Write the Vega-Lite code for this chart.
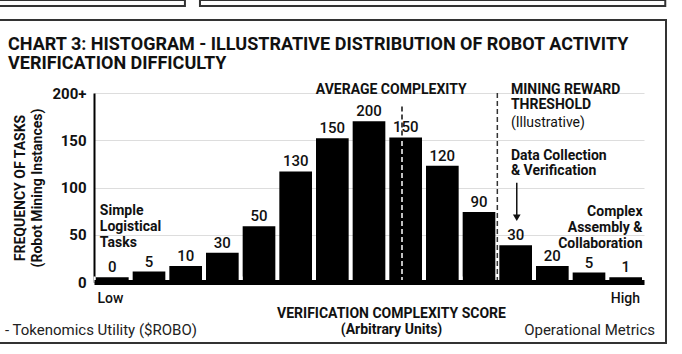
{
  "$schema": "https://vega.github.io/schema/vega-lite/v6.json",
  "width": 550,
  "height": 189,
  "autosize": {"type": "none"},
  "padding": {"left": 94, "top": 93, "right": 38, "bottom": 72},
  "background": "white",
  "config": {"view": {"stroke": null}, "font": "Roboto", "text": {"font": "Roboto", "color": "#111"}},
  "title": {
    "text": ["CHART 3: HISTOGRAM - ILLUSTRATIVE DISTRIBUTION OF ROBOT ACTIVITY", "VERIFICATION DIFFICULTY"],
    "anchor": "start",
    "frame": "group",
    "font": "Roboto",
    "fontSize": 18,
    "fontWeight": "bold",
    "color": "#111",
    "lineHeight": 19,
    "dx": -86,
    "offset": 0,
    "dy": 74
  },
  "datasets": {
    "bins": [
      {"start": 0, "end": 1, "mid": 0.5, "count": 5, "label": "0"},
      {"start": 1, "end": 2, "mid": 1.5, "count": 11, "label": "5"},
      {"start": 2, "end": 3, "mid": 2.5, "count": 17, "label": "10"},
      {"start": 3, "end": 4, "mid": 3.5, "count": 31, "label": "30"},
      {"start": 4, "end": 5, "mid": 4.5, "count": 59, "label": "50"},
      {"start": 5, "end": 6, "mid": 5.5, "count": 117, "label": "130"},
      {"start": 6, "end": 7, "mid": 6.5, "count": 152, "label": "150"},
      {"start": 7, "end": 8, "mid": 7.5, "count": 170, "label": "200"},
      {"start": 8, "end": 9, "mid": 8.5, "count": 153, "label": "150"},
      {"start": 9, "end": 10, "mid": 9.5, "count": 123, "label": "120"},
      {"start": 10, "end": 11, "mid": 10.5, "count": 74, "label": "90"},
      {"start": 11, "end": 12, "mid": 11.5, "count": 39, "label": "30"},
      {"start": 12, "end": 13, "mid": 12.5, "count": 17, "label": "20"},
      {"start": 13, "end": 14, "mid": 13.5, "count": 10, "label": "5"},
      {"start": 14, "end": 15, "mid": 14.5, "count": 5, "label": "1"}
    ]
  },
  "layer": [
    {
      "data": {"name": "bins"},
      "mark": {"type": "bar", "color": "#000", "xOffset": 2, "x2Offset": -2},
      "encoding": {
        "x": {
          "field": "start", "type": "quantitative",
          "scale": {"domain": [0, 15], "nice": false, "zero": false},
          "axis": {
            "values": [0,1,2,3,4,5,6,7,8,9,10,11,12,13,14,15],
            "labelExpr": "datum.value < 0.5 ? 'Low' : (datum.value > 13.5 && datum.value < 14.5) ? 'High' : ''",
            "labelFlush": false,
            "labelAlign": "left",
            "labelOffset": 3,
            "labelOverlap": false,
            "labelBound": false,
            "grid": false,
            "domainColor": "#000",
            "domainWidth": 5,
            "tickColor": "white",
            "tickWidth": 2,
            "tickSize": -6,
            "zindex": 1,
            "labelFontSize": 14,
            "labelFontWeight": 500,
            "labelColor": "#111",
            "labelPadding": 15,
            "title": ["VERIFICATION COMPLEXITY SCORE", "(Arbitrary Units)"],
            "titleFontSize": 14,
            "titleFontWeight": "bold",
            "titleColor": "#111",
            "titleLineHeight": 16,
            "titlePadding": 1,
            "titleX": 297
          }
        },
        "x2": {"field": "end"},
        "y": {
          "field": "count", "type": "quantitative",
          "scale": {"domain": [0, 200], "nice": false},
          "axis": {
            "values": [0, 50, 100, 150, 200],
            "labelExpr": "datum.value == 200 ? '200+' : datum.label",
            "domainColor": "#000",
            "domainWidth": 2,
            "ticks": false,
            "grid": true,
            "gridColor": "#ddd",
            "gridWidth": 1,
            "labelFontSize": 15,
            "labelFontWeight": "bold",
            "labelColor": "#111",
            "labelPadding": 8,
            "title": ["FREQUENCY OF TASKS", "(Robot Mining Instances)"],
            "titleFontSize": 14,
            "titleFontWeight": "bold",
            "titleColor": "#111",
            "titleLineHeight": 17,
            "titlePadding": 8
          }
        },
        "y2": {"datum": 0}
      }
    },
    {
      "data": {"name": "bins"},
      "mark": {"type": "text", "baseline": "middle", "dy": -10, "fontSize": 15, "fontWeight": 500, "color": "#111"},
      "encoding": {
        "x": {"field": "mid", "type": "quantitative"},
        "y": {"field": "count", "type": "quantitative"},
        "text": {"field": "label"}
      }
    },
    {
      "data": {"values": [{}]},
      "layer": [
        {
          "mark": {"type": "rule", "color": "white", "strokeWidth": 1.5, "strokeDash": [5, 3]},
          "encoding": {
            "x": {"datum": 8.4, "type": "quantitative"},
            "y": {"datum": 0, "type": "quantitative"},
            "y2": {"datum": 152}
          }
        },
        {
          "mark": {"type": "rule", "color": "#111", "strokeWidth": 1.5, "strokeDash": [5, 3]},
          "encoding": {
            "x": {"datum": 8.4, "type": "quantitative"},
            "y": {"datum": 155, "type": "quantitative"},
            "y2": {"datum": 189}
          }
        },
        {
          "mark": {"type": "rule", "color": "#333", "strokeWidth": 1.5, "strokeDash": [5, 3]},
          "encoding": {
            "x": {"datum": 11, "type": "quantitative"},
            "y": {"datum": 0, "type": "quantitative"},
            "y2": {"datum": 200}
          }
        },
        {
          "mark": {"type": "rule", "color": "#111", "strokeWidth": 1.5},
          "encoding": {
            "x": {"datum": 11.53, "type": "quantitative"},
            "y": {"datum": 105, "type": "quantitative"},
            "y2": {"datum": 70}
          }
        },
        {
          "mark": {"type": "point", "shape": "triangle-down", "filled": true, "color": "#111", "size": 60, "opacity": 1},
          "encoding": {
            "x": {"datum": 11.53, "type": "quantitative"},
            "y": {"datum": 68, "type": "quantitative"}
          }
        },
        {
          "mark": {"type": "text", "text": ["Simple", "Logistical", "Tasks"], "align": "left", "baseline": "middle", "fontSize": 14, "fontWeight": "bold", "lineHeight": 16},
          "encoding": {
            "x": {"datum": 0.16, "type": "quantitative"},
            "y": {"datum": 75.4, "type": "quantitative"}
          }
        },
        {
          "mark": {"type": "text", "text": "AVERAGE COMPLEXITY", "align": "left", "baseline": "middle", "fontSize": 14, "fontWeight": "bold"},
          "encoding": {
            "x": {"datum": 6.05, "type": "quantitative"},
            "y": {"datum": 203, "type": "quantitative"}
          }
        },
        {
          "mark": {"type": "text", "text": ["MINING REWARD", "THRESHOLD"], "align": "left", "baseline": "middle", "fontSize": 14, "fontWeight": "bold", "lineHeight": 15},
          "encoding": {
            "x": {"datum": 11.37, "type": "quantitative"},
            "y": {"datum": 203.2, "type": "quantitative"}
          }
        },
        {
          "mark": {"type": "text", "text": "(Illustrative)", "align": "left", "baseline": "middle", "fontSize": 14},
          "encoding": {
            "x": {"datum": 11.37, "type": "quantitative"},
            "y": {"datum": 168.3, "type": "quantitative"}
          }
        },
        {
          "mark": {"type": "text", "text": ["Data Collection", "& Verification"], "align": "left", "baseline": "middle", "fontSize": 14, "fontWeight": "bold", "lineHeight": 15},
          "encoding": {
            "x": {"datum": 11.37, "type": "quantitative"},
            "y": {"datum": 133, "type": "quantitative"}
          }
        },
        {
          "mark": {"type": "text", "text": ["Complex", "Assembly &", "Collaboration"], "align": "right", "baseline": "middle", "fontSize": 14, "fontWeight": "bold", "lineHeight": 16},
          "encoding": {
            "x": {"datum": 14.96, "type": "quantitative"},
            "y": {"datum": 74, "type": "quantitative"}
          }
        },
        {
          "mark": {"type": "text", "text": "- Tokenomics Utility ($ROBO)", "align": "left", "baseline": "middle", "fontSize": 15, "color": "#222"},
          "encoding": {
            "x": {"datum": -2.43, "type": "quantitative"},
            "y": {"datum": -50.8, "type": "quantitative"}
          }
        },
        {
          "mark": {"type": "text", "text": "Operational Metrics", "align": "right", "baseline": "middle", "fontSize": 15, "color": "#222"},
          "encoding": {
            "x": {"datum": 15.3, "type": "quantitative"},
            "y": {"datum": -50.8, "type": "quantitative"}
          }
        },
        {
          "mark": {"type": "rect", "fillOpacity": 0, "stroke": "#333", "strokeWidth": 2},
          "encoding": {
            "x": {"datum": -2.7, "type": "quantitative"},
            "x2": {"datum": 15.6},
            "y": {"datum": -64.6, "type": "quantitative"},
            "y2": {"datum": 277.2}
          }
        },
        {
          "mark": {"type": "rect", "fillOpacity": 0, "stroke": "#333", "strokeWidth": 2},
          "encoding": {
            "x": {"datum": -2.7, "type": "quantitative"},
            "x2": {"datum": 2.48},
            "y": {"datum": 292, "type": "quantitative"},
            "y2": {"datum": 298.5}
          }
        },
        {
          "mark": {"type": "rect", "fillOpacity": 0, "stroke": "#333", "strokeWidth": 2},
          "encoding": {
            "x": {"datum": 2.89, "type": "quantitative"},
            "x2": {"datum": 15.58},
            "y": {"datum": 292, "type": "quantitative"},
            "y2": {"datum": 298.5}
          }
        }
      ]
    }
  ]
}
